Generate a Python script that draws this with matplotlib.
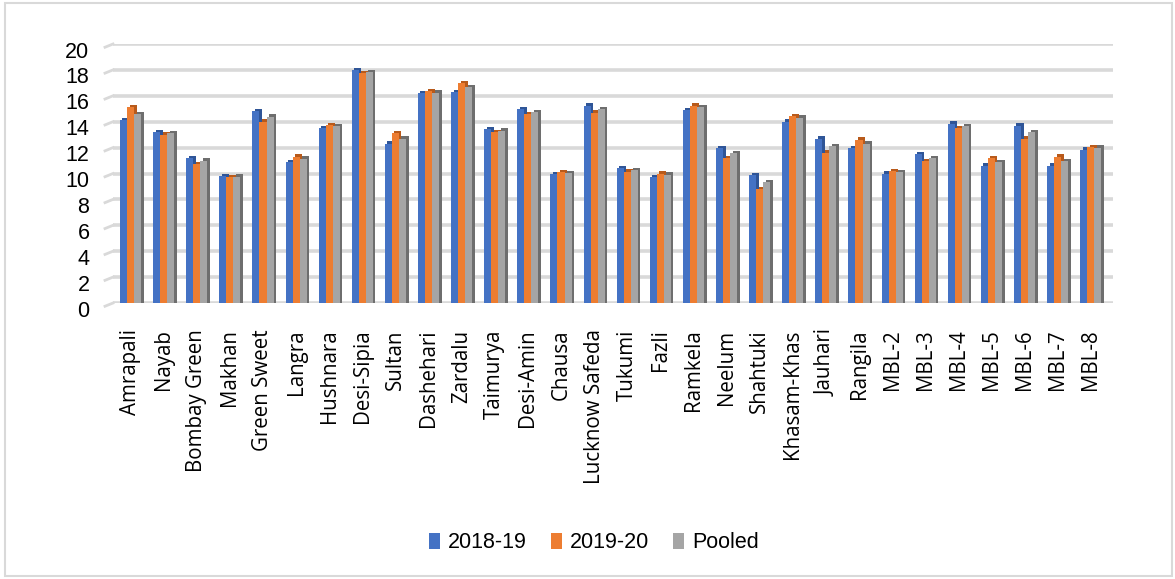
import matplotlib.pyplot as plt
import numpy as np
from matplotlib.patches import Rectangle
import matplotlib.transforms as mtransforms

plt.rcParams['font.family'] = ['Liberation Sans', 'DejaVu Sans']

# --- data ---
varieties = ['Amrapali', 'Nayab', 'Bombay Green', 'Makhan', 'Green Sweet', 'Langra',
             'Hushnara', 'Desi-Sipia', 'Sultan', 'Dashehari', 'Zardalu', 'Taimurya',
             'Desi-Amin', 'Chausa', 'Lucknow Safeda', 'Tukumi', 'Fazli', 'Ramkela',
             'Neelum', 'Shahtuki', 'Khasam-Khas', 'Jauhari', 'Rangila', 'MBL-2',
             'MBL-3', 'MBL-4', 'MBL-5', 'MBL-6', 'MBL-7', 'MBL-8']

y2018 = [14.2, 13.3, 11.3, 9.9, 14.9, 11.0, 13.6, 18.1, 12.4, 16.3, 16.4, 13.5,
         15.05, 10.05, 15.35, 10.5, 9.8, 15.0, 12.05, 9.95, 14.1, 12.8, 12.05, 10.1,
         11.6, 13.95, 10.7, 13.8, 10.7, 11.95]
y2019 = [15.2, 13.1, 10.8, 9.8, 14.1, 11.4, 13.85, 17.85, 13.2, 16.45, 17.1, 13.3,
         14.7, 10.2, 14.8, 10.25, 10.1, 15.35, 11.3, 8.9, 14.55, 11.7, 12.7, 10.3,
         11.05, 13.6, 11.3, 12.8, 11.4, 12.15]
pooled = [14.7, 13.2, 11.1, 9.85, 14.5, 11.25, 13.75, 17.95, 12.8, 16.35, 16.75, 13.4,
          14.85, 10.15, 15.05, 10.35, 10.0, 15.2, 11.65, 9.45, 14.4, 12.2, 12.4, 10.2,
          11.3, 13.75, 11.0, 13.3, 11.05, 12.1]

series = [('2018-19', y2018, '#4472C4', '#2F5597'),
          ('2019-20', y2019, '#ED7D31', '#B85A1B'),
          ('Pooled', pooled, '#A5A5A5', '#6E6E6E')]

fig = plt.figure(figsize=(11.75, 5.79), dpi=100)
ax = fig.add_axes([113 / 1175, 1 - 303 / 579, 1000 / 1175, 259 / 579])

x = np.arange(len(varieties))
w = 0.213
dx = 0.075            # fake 3D depth: side face shift
top_front, top_back = 0.1, 0.08   # front face sits a bit below, back edge a bit above

for i, (name, vals, col, side) in enumerate(series):
    vals = np.array(vals)
    off = (i - 1) * w
    ax.bar(x + off + dx, vals + top_back, width=w, color=side, zorder=2 + 2 * i)
    ax.bar(x + off, vals - top_front, width=w, color=col, zorder=3 + 2 * i, label=name)

ax.set_xlim(-0.53, len(varieties) - 1 + 0.67)
ax.set_ylim(0, 20)
ax.set_yticks(np.arange(0, 21, 2))

# thick light grey gridlines with a small slanted stub (3D wall look)
for yv in ax.get_yticks():
    ax.axhline(yv, color='#d9d9d9', lw=2.6, zorder=1)
trans = mtransforms.blended_transform_factory(ax.transAxes, ax.transData)
for yv in ax.get_yticks():
    ax.plot([-0.008, 0.0], [yv - 0.25, yv], color='#d9d9d9', lw=2.0,
            transform=trans, clip_on=False, zorder=1)

for s in ax.spines.values():
    s.set_visible(False)

ax.set_xticks(x)
ax.set_xticklabels(varieties, rotation=90, family='Open Sans', fontsize=14.8)
ax.tick_params(axis='x', length=0, pad=19)
ax.tick_params(axis='y', length=0, pad=17, labelsize=15.5)

# y labels sit slightly below their gridlines in the 3D original
shift = mtransforms.ScaledTranslation(0, -4 / 72, fig.dpi_scale_trans)
for lbl in ax.get_yticklabels():
    lbl.set_transform(lbl.get_transform() + shift)

fig.legend(loc='center', bbox_to_anchor=(594 / 1175, 1 - 543 / 579), ncol=3,
           frameon=False, fontsize=15.5, handlelength=0.5, handleheight=0.8,
           handletextpad=0.4, columnspacing=1.1)

# outer chart border
fig.patches.append(Rectangle((5 / 1175, 3 / 579), 1167 / 1175, 573 / 579,
                             transform=fig.transFigure, fill=False,
                             edgecolor='#d9d9d9', lw=1.5))

fig.savefig('out.png', dpi=100)
